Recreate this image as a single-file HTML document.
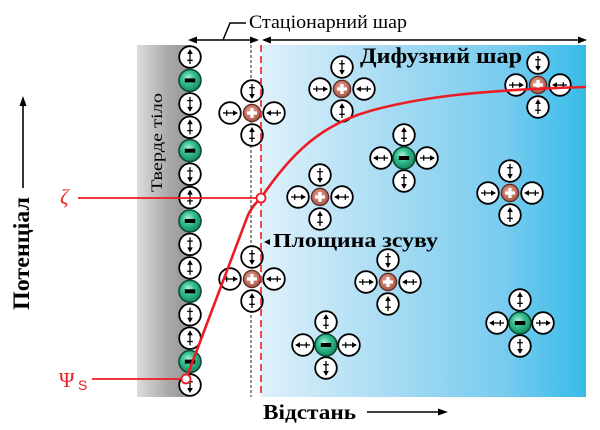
<!DOCTYPE html>
<html><head><meta charset="utf-8"><style>
html,body{margin:0;padding:0;background:#fff;}
svg{display:block;}
</style></head><body>
<svg width="600" height="430" viewBox="0 0 600 430" xmlns="http://www.w3.org/2000/svg">
<defs>
<linearGradient id="blue" x1="0" y1="0" x2="1" y2="0">
<stop offset="0" stop-color="#dff1fa"/>
<stop offset="0.4" stop-color="#a6dbf3"/>
<stop offset="0.75" stop-color="#78cbef"/>
<stop offset="1" stop-color="#36bce8"/>
</linearGradient>
<linearGradient id="grey" x1="0" y1="0" x2="1" y2="0">
<stop offset="0" stop-color="#dcdcdc"/>
<stop offset="0.6" stop-color="#a8a8a8"/>
<stop offset="1" stop-color="#959595"/>
</linearGradient>
<radialGradient id="cg" cx="0.45" cy="0.4" r="0.6">
<stop offset="0" stop-color="#e8b0a2"/>
<stop offset="0.6" stop-color="#c47262"/>
<stop offset="1" stop-color="#a55444"/>
</radialGradient>
<radialGradient id="ag" cx="0.42" cy="0.38" r="0.62">
<stop offset="0" stop-color="#b4f2da"/>
<stop offset="0.45" stop-color="#36c08f"/>
<stop offset="1" stop-color="#148a63"/>
</radialGradient>
<g id="w">
<circle r="10.8" fill="#fff" stroke="#000" stroke-width="1.8"/>
<line x1="0" y1="-4" x2="0" y2="7" stroke="#000" stroke-width="1.3"/>
<polygon points="0,-8 -2.8,-3 2.8,-3" fill="#000"/>
<line x1="-2.8" y1="3.3" x2="2.8" y2="3.3" stroke="#000" stroke-width="1.3"/>
</g>
<g id="cat">
<circle r="8.6" fill="url(#cg)" stroke="#5b2b22" stroke-width="1.3"/>
<rect x="-5" y="-1.6" width="10" height="3.2" fill="#fff"/>
<rect x="-1.6" y="-5" width="3.2" height="10" fill="#fff"/>
</g>
<g id="an">
<circle r="11" fill="url(#ag)" stroke="#0e4a36" stroke-width="1.6"/>
<rect x="-5.2" y="-2" width="10.4" height="4" fill="#000"/>
</g>
<g id="cc">
<use href="#w" transform="translate(0,-22) rotate(180)"/>
<use href="#w" transform="translate(0,22)"/>
<use href="#w" transform="translate(-22,0) rotate(90)"/>
<use href="#w" transform="translate(22,0) rotate(-90)"/>
<use href="#cat"/>
</g>
<g id="ac">
<use href="#w" transform="translate(0,-23)"/>
<use href="#w" transform="translate(0,23) rotate(180)"/>
<use href="#w" transform="translate(-23,0) rotate(-90)"/>
<use href="#w" transform="translate(23,0) rotate(90)"/>
<use href="#an"/>
</g>
</defs>

<!-- backgrounds -->
<rect x="137" y="45" width="53" height="352" fill="url(#grey)"/>
<rect x="261" y="45" width="325" height="352" fill="url(#blue)"/>

<!-- grey dashed line -->
<line x1="251" y1="45" x2="251" y2="397" stroke="#555" stroke-width="1.3" stroke-dasharray="3,2"/>

<!-- column -->
<use href="#w" transform="translate(190,57)"/>
<use href="#an" transform="translate(190,80.4)"/>
<use href="#w" transform="translate(190,103.9) rotate(180)"/>
<use href="#w" transform="translate(190,127.3)"/>
<use href="#an" transform="translate(190,150.7)"/>
<use href="#w" transform="translate(190,174.2) rotate(180)"/>
<use href="#w" transform="translate(190,197.6)"/>
<use href="#an" transform="translate(190,221)"/>
<use href="#w" transform="translate(190,244.4) rotate(180)"/>
<use href="#w" transform="translate(190,267.9)"/>
<use href="#an" transform="translate(190,291.3)"/>
<use href="#w" transform="translate(190,314.7) rotate(180)"/>
<use href="#w" transform="translate(190,338.2)"/>
<use href="#an" transform="translate(190,361.6)"/>
<use href="#w" transform="translate(190,385) rotate(180)"/>

<!-- clusters -->
<use href="#cc" transform="translate(252,113)"/>
<use href="#cc" transform="translate(342,89)"/>
<use href="#cc" transform="translate(538,85)"/>
<use href="#cc" transform="translate(320,197)"/>
<use href="#cc" transform="translate(510,193)"/>
<use href="#cc" transform="translate(388,282)"/>
<use href="#cc" transform="translate(252,279)"/>
<use href="#ac" transform="translate(404,158)"/>
<use href="#ac" transform="translate(326,345)"/>
<use href="#ac" transform="translate(520,323)"/>

<!-- red dashed line -->
<line x1="261" y1="45" x2="261" y2="397" stroke="#ec1c24" stroke-width="1.6" stroke-dasharray="7,4"/>

<!-- top arrows -->
<g stroke="#000" stroke-width="1.5" fill="none">
<line x1="192" y1="40" x2="255" y2="40"/>
<line x1="266" y1="40" x2="583" y2="40"/>
<polyline points="223,40 230,23 246,23"/>
</g>
<g fill="#000">
<polygon points="188,40 197,36.5 197,43.5"/>
<polygon points="259,40 250,36.5 250,43.5"/>
<polygon points="262,40 271,36.5 271,43.5"/>
<polygon points="587,40 578,36.5 578,43.5"/>
</g>
<text x="249" y="28" font-family="Liberation Serif, serif" font-size="19" textLength="158" lengthAdjust="spacingAndGlyphs">Стаціонарний шар</text>

<text x="360" y="63" font-family="Liberation Serif, serif" font-size="22" font-weight="bold" textLength="162" lengthAdjust="spacingAndGlyphs">Дифузний шар</text>

<text x="273" y="247" font-family="Liberation Serif, serif" font-size="20" font-weight="bold" textLength="165" lengthAdjust="spacingAndGlyphs">Площина зсуву</text>
<polygon points="264,242 270,239 270,245" fill="#000"/>

<text x="263" y="419" font-family="Liberation Serif, serif" font-size="21" font-weight="bold" textLength="93" lengthAdjust="spacingAndGlyphs">Відстань</text>
<line x1="367" y1="412" x2="440" y2="412" stroke="#000" stroke-width="1.6"/>
<polygon points="448,412 438,408.5 438,415.5" fill="#000"/>

<text transform="translate(29,310) rotate(-90)" font-family="Liberation Serif, serif" font-size="23" font-weight="bold" textLength="113" lengthAdjust="spacingAndGlyphs">Потенціал</text>
<line x1="23" y1="188" x2="23" y2="104" stroke="#000" stroke-width="1.6"/>
<polygon points="23,96 19.5,106 26.5,106" fill="#000"/>

<text transform="translate(162,192) rotate(-90)" font-family="Liberation Serif, serif" font-size="16" textLength="99" lengthAdjust="spacingAndGlyphs">Тверде тіло</text>

<!-- zeta / psi -->
<text x="60" y="204" font-family="Liberation Serif, serif" font-size="21" font-style="italic" fill="#ec1c24">ζ</text>
<line x1="78" y1="198" x2="257" y2="198" stroke="#ec1c24" stroke-width="1.8"/>
<text x="59" y="387" font-family="Liberation Serif, serif" font-size="21" fill="#ec1c24">Ψ</text>
<text x="78" y="390" font-family="Liberation Sans, sans-serif" font-size="14" fill="#ec1c24">S</text>
<line x1="92" y1="379" x2="182" y2="379" stroke="#ec1c24" stroke-width="1.8"/>

<!-- potential curve -->
<path d="M186,379 L248,215 Q253,205 261,198 C290,155 320,125 370,111 C420,97 480,90 586,87" fill="none" stroke="#ec1c24" stroke-width="2.6" stroke-linejoin="round"/>
<circle cx="261" cy="198" r="4.5" fill="#fff" stroke="#ec1c24" stroke-width="1.8"/>
<circle cx="186" cy="379" r="4.5" fill="#fff" stroke="#ec1c24" stroke-width="1.8"/>
</svg>
</body></html>
